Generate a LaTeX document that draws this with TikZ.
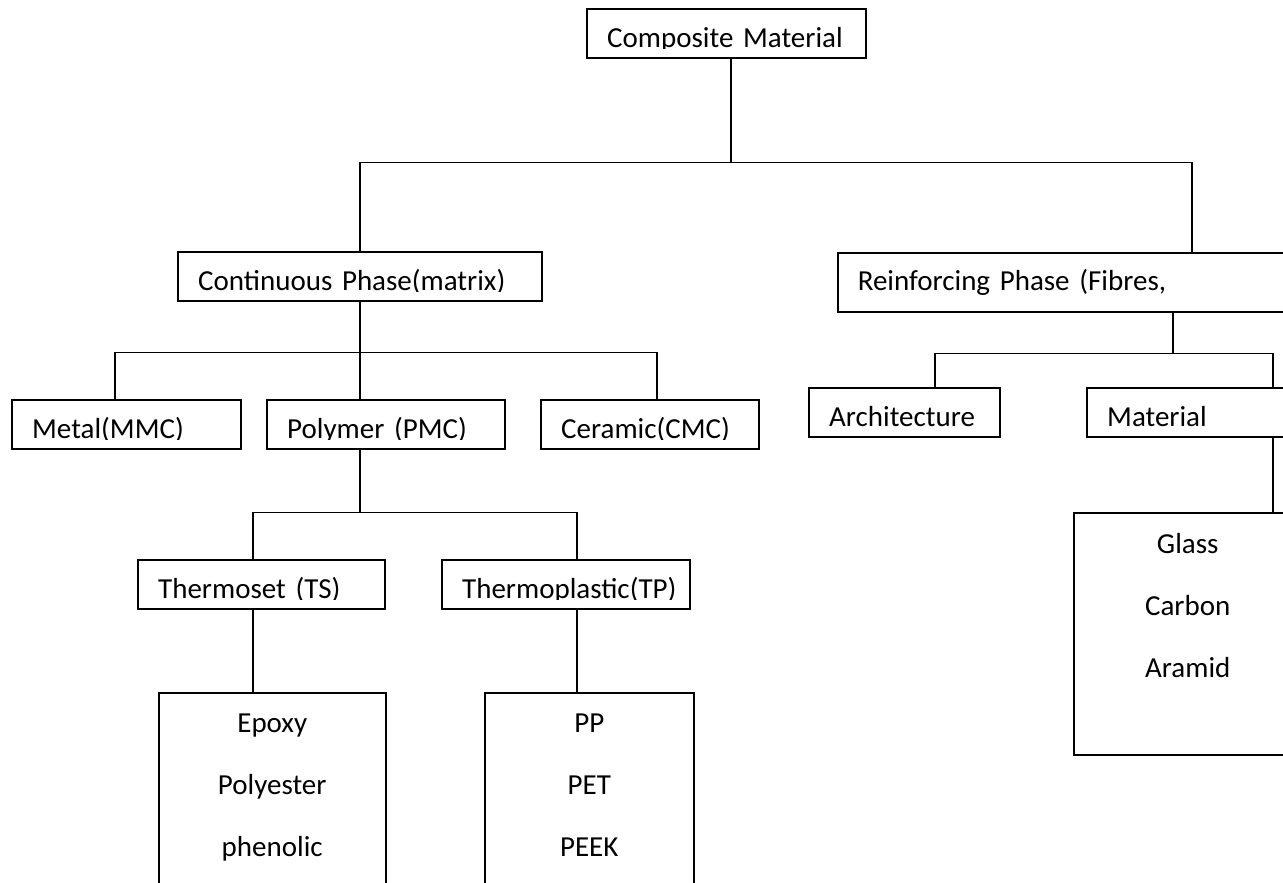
\documentclass[tikz,border=0pt]{standalone}
\usepackage{fontspec}
\setmainfont{Carlito}

\newsavebox\lblbox
% text cut off just under its baseline, as in the boxes of the chart
\newcommand{\cutlbl}[1]{\sbox\lblbox{#1}%
  \begin{pgfpicture}\pgfsetbaseline{0pt}%
    \pgfpathrectangle{\pgfpoint{0pt}{-1.5pt}}{\pgfpoint{\wd\lblbox+2pt}{\ht\lblbox+4pt}}%
    \pgfusepath{clip}%
    \pgftext[base,left]{\usebox\lblbox}%
  \end{pgfpicture}}

\begin{document}
\begin{tikzpicture}[x=1pt,y=-1pt,line width=1.5pt,
  every node/.style={font=\fontsize{29}{35}\selectfont},
  box/.style={draw,anchor=north west,inner xsep=20pt,inner ysep=0pt,
    text width=#1,text height=38pt,text depth=11pt,align=left},
  listbox/.style={draw,anchor=north west,inner sep=0pt,
    minimum width=#1,minimum height=260pt},
  list/.style={anchor=north,inner sep=0pt,align=center,
    font=\fontsize{29}{62}\selectfont}]
  \useasboundingbox (0,0) rectangle (1283,883);

  \node[box=239pt] (comp) at (587,9) {\cutlbl{Composite Material}};
  \node[box=324pt] (cont) at (178,252) {\cutlbl{Continuous Phase(matrix)}};
  \node[box=440pt,text depth=21pt] (reinf) at (837,252) {Reinforcing Phase (Fibres,};

  \node[box=189pt] (metal) at (12,400) {\cutlbl{Metal(MMC)}};
  \node[box=198pt] (poly) at (267,400) {\cutlbl{Polymer (PMC)}};
  \node[box=178pt] (ceram) at (541,400) {\cutlbl{Ceramic(CMC)}};
  \node[box=151pt] (arch) at (809,388) {\cutlbl{Architecture}};
  \node[box=200pt] (mat) at (1087,388) {\cutlbl{Material}};

  \node[box=207pt] (thset) at (138,560) {\cutlbl{Thermoset (TS)}};
  \node[box=208pt] (thpl) at (442,560) {\cutlbl{Thermoplastic(TP)}};

  \node[listbox=227pt] (epoxy) at (158,692) {};
  \node[list] (epoxylist) at ([yshift=-21pt]epoxy.north) {Epoxy\\Polyester\\phenolic};
  \node[listbox=209pt] (pp) at (484,692) {};
  \node[list] (pplist) at ([yshift=-21pt]pp.north) {PP\\PET\\PEEK};
  \node[listbox=228pt,minimum height=242pt] (glass) at (1073,512) {};
  \node[list] (glasslist) at ([yshift=-21pt]glass.north) {Glass\\Carbon\\Aramid};

  % tree lines
  \draw ([xshift=4.5pt]comp.south) -- ++(0,104) coordinate (fork1);
  \draw (cont.north) |- (fork1) -| ([xshift=355pt]reinf.north west);
  \draw (cont.south) -- ++(0,51) coordinate (fork2) |- ([xshift=-26pt]poly.north);
  \draw ([xshift=-11.5pt]metal.north) |- (fork2) -| ([xshift=7pt]ceram.north);
  \draw ([xshift=-26pt]poly.south) -- ++(0,63) coordinate (fork3);
  \draw ([xshift=-8.5pt]thset.north) |- (fork3) -| ([xshift=11pt]thpl.north);
  \draw ([xshift=-8.5pt]thset.south) |- ([xshift=-18.5pt]epoxy.north);
  \draw ([xshift=11pt]thpl.south) |- ([xshift=-11.5pt]pp.north);
  \draw ([xshift=336pt]reinf.south west) -- ++(0,41) coordinate (fork4);
  \draw ([xshift=30.5pt]arch.north) |- (fork4) -| ([xshift=186pt]mat.north west);
  \draw ([xshift=186pt]mat.south west) |- ([xshift=200pt]glass.north west);
\end{tikzpicture}
\end{document}
